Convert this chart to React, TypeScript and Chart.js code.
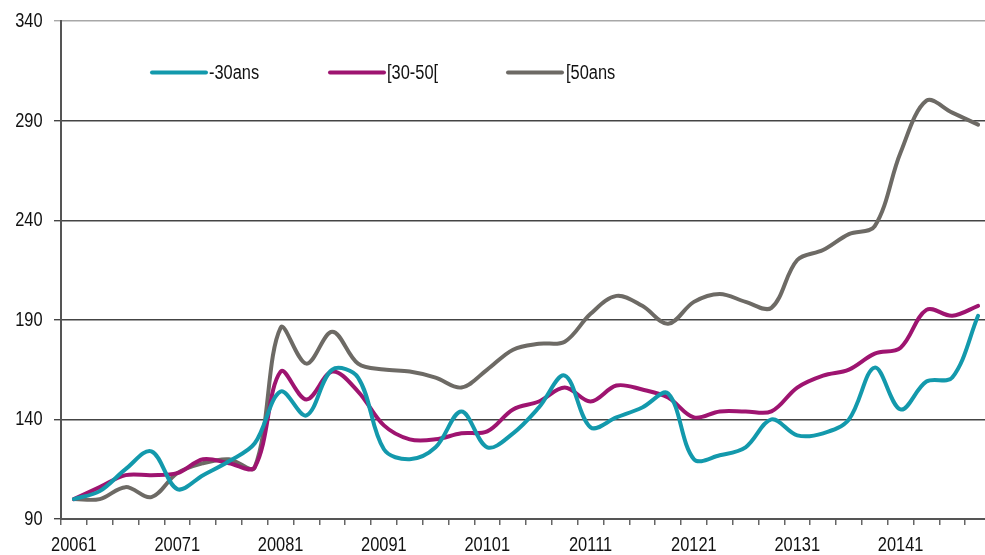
import React, { useEffect, useRef } from "react";
import { Chart, registerables } from "chart.js";

Chart.register(...registerables);

const periods: string[] = [];
const years = [2006, 2007, 2008, 2009, 2010, 2011, 2012, 2013, 2014];
for (const y of years) for (let q = 1; q <= 4; q++) periods.push(`${y}${q}`);

const seriesNames = ["-30ans", "[30-50[", "[50ans"];
const under30 = [100, 104, 115, 124, 105, 112, 119, 128, 154, 142, 165, 161, 125, 120, 126, 144, 126, 133, 146, 162, 136, 141, 146, 153, 120, 122, 126, 140, 132, 133, 140, 166, 145, 159, 161, 192];
const from30to50 = [100, 106, 112, 112, 113, 120, 118, 116, 164, 150, 164, 154, 137, 130, 130, 133, 134, 145, 149, 156, 149, 157, 155, 151, 141, 144, 144, 144, 156, 162, 165, 173, 176, 195, 192, 197];
const over50 = [100, 100, 106, 101, 113, 118, 120, 116, 186, 168, 184, 168, 165, 164, 161, 156, 165, 175, 178, 179, 193, 202, 197, 188, 199, 203, 199, 196, 220, 225, 233, 237, 274, 300, 294, 288];
const yTicks = [90, 140, 190, 240, 290, 340];

const colors = ["#1399AC", "#9E1470", "#6D6A65"];
const FONT = "20px 'Liberation Sans', Arial, sans-serif";
const NARROW = 0.82; // horizontal squeeze to mimic Arial Narrow

function narrowText(ctx: CanvasRenderingContext2D, text: string, x: number, y: number, align: CanvasTextAlign) {
  ctx.save();
  ctx.translate(x, y);
  ctx.scale(NARROW, 1);
  ctx.font = FONT;
  ctx.fillStyle = "#111";
  ctx.textAlign = align;
  ctx.textBaseline = "middle";
  ctx.fillText(text, 0, 0);
  ctx.restore();
}

const textPlugin = {
  id: "narrowTexts",
  afterDraw(chart: any) {
    const ctx = chart.ctx as CanvasRenderingContext2D;
    const ys = chart.scales.y;
    const xs = chart.scales.x;
    yTicks.forEach((v) => {
      narrowText(ctx, String(v), 42.5, ys.getPixelForValue(v) + 0.5, "right");
    });
    periods.forEach((p, i) => {
      if (i % 4 === 0) narrowText(ctx, p, xs.getPixelForValue(i), 545.5, "center");
    });
    const items = [
      { x1: 152, x2: 206, tx: 209 },
      { x1: 330, x2: 384, tx: 387 },
      { x1: 508, x2: 562, tx: 566 },
    ];
    const y = 72.5;
    items.forEach((it, i) => {
      ctx.save();
      ctx.strokeStyle = colors[i];
      ctx.lineWidth = 4;
      ctx.lineCap = "round";
      ctx.beginPath();
      ctx.moveTo(it.x1, y);
      ctx.lineTo(it.x2, y);
      ctx.stroke();
      ctx.restore();
      narrowText(ctx, seriesNames[i], it.tx, y + 1, "left");
    });
  },
};

export default function App() {
  const ref = useRef<HTMLCanvasElement | null>(null);
  useEffect(() => {
    if (!ref.current) return;
    const chart = new Chart(ref.current, {
      type: "line",
      data: {
        labels: periods,
        datasets: [under30, from30to50, over50].map((d, i) => ({
          label: seriesNames[i],
          data: d,
          borderColor: colors[i],
          backgroundColor: colors[i],
          borderWidth: 4,
          pointRadius: 0,
          tension: 0.35,
          fill: false,
          borderCapStyle: "round" as const,
          borderJoinStyle: "round" as const,
        })),
      },
      options: {
        responsive: false,
        animation: false,
        layout: { padding: { top: 21, right: 9, left: 0, bottom: 0 } },
        plugins: { legend: { display: false }, tooltip: { enabled: false } },
        scales: {
          x: {
            type: "category",
            offset: true,
            afterFit: (s: any) => {
              s.height = 36;
            },
            grid: {
              offset: true,
              drawOnChartArea: false,
              drawTicks: true,
              tickLength: 6,
              color: "#666",
              lineWidth: 1.5,
            },
            border: { display: true, color: "#555", width: 2 },
            ticks: { display: false, autoSkip: false },
          },
          y: {
            min: 90,
            max: 340,
            afterFit: (s: any) => {
              s.width = 61;
            },
            afterBuildTicks: (s: any) => {
              s.ticks = yTicks.map((v) => ({ value: v }));
            },
            grid: {
              color: (c: any) => (c.index === yTicks.length - 1 ? "#A8A8A8" : "#444"),
              lineWidth: 1.4,
              tickLength: 7,
              drawTicks: true,
            },
            border: { display: true, color: "#555", width: 2 },
            ticks: { display: false },
          },
        },
      },
      plugins: [textPlugin],
    });
    return () => chart.destroy();
  }, []);
  return (
    <div style={{ position: "fixed", left: 0, top: 0, width: 985, height: 555, overflow: "hidden", background: "#fff" }}>
      <canvas ref={ref} width={1000} height={555} style={{ display: "block" }} />
    </div>
  );
}
